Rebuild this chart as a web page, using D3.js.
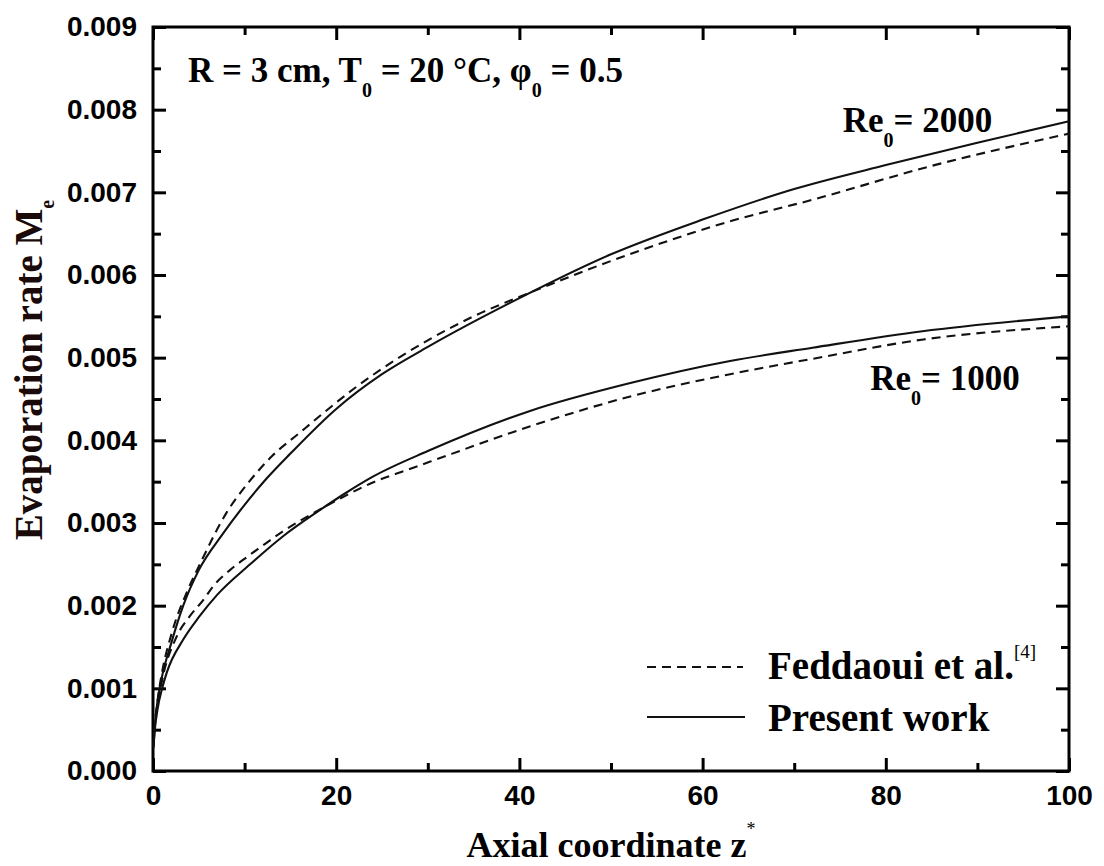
<!DOCTYPE html>
<html>
<head>
<meta charset="utf-8">
<script src="https://cdn.jsdelivr.net/npm/d3@7"></script>
<style>
  html, body { margin: 0; padding: 0; background: #fff; }
</style>
</head>
<body>
<div id="chart"></div>
<script>
// values (z* is dimensionless, Me in the plotted units)
const zPresent2000 = [0.05, 0.2, 0.5, 1, 2, 3.3, 5, 7.5, 10, 12.5, 15, 20, 25, 30, 40, 50, 60, 70, 80, 90, 100];
const mePresent2000 = [0.0003, 0.00055, 0.00085, 0.00115, 0.00155, 0.002, 0.00243, 0.00285, 0.00322, 0.00355, 0.00384,
  0.00438, 0.0048, 0.00513, 0.00572, 0.00625, 0.00667, 0.00704, 0.00733, 0.0076, 0.00786];

const zFeddaoui2000 = [0.05, 0.2, 0.5, 1, 2, 3.8, 5.2, 8, 10.5, 13, 16, 18.6, 22, 26, 30, 35, 41, 52, 63, 72, 85, 100];
const meFeddaoui2000 = [0.0003, 0.00055, 0.00085, 0.0012, 0.00165, 0.00219, 0.00252, 0.00312, 0.0035, 0.00381, 0.00409,
  0.00433, 0.00463, 0.00494, 0.00521, 0.0055, 0.00578, 0.00625, 0.00665, 0.00691, 0.00732, 0.00771];

const zPresent1000 = [0.05, 0.2, 0.5, 1, 1.5, 3.3, 5, 7, 10.6, 14.2, 18, 21, 24, 30, 41, 52, 63, 72, 84, 100];
const mePresent1000 = [0.00028, 0.0005, 0.00075, 0.001, 0.00119, 0.00159, 0.00186, 0.00213, 0.0025, 0.00284, 0.00314,
  0.00336, 0.00356, 0.00387, 0.00435, 0.00469, 0.00496, 0.00512, 0.00532, 0.0055];

const zFeddaoui1000 = [0.05, 0.2, 0.5, 1, 2.6, 4, 5.5, 6.6, 8.4, 10.4, 12.4, 14.2, 18, 20, 24, 27.7, 30.2, 41.2, 52.1, 63, 71.7, 84.1, 100];
const meFeddaoui1000 = [0.0003, 0.00055, 0.0008, 0.0011, 0.00163, 0.00187, 0.00207, 0.00224, 0.00243, 0.0026, 0.00276,
  0.0029, 0.00315, 0.00327, 0.00349, 0.00364, 0.00374, 0.00417, 0.00453, 0.0048, 0.00498, 0.00522, 0.00538];

const xMajorTicks = [0, 20, 40, 60, 80, 100];
const xMinorTicks = [10, 30, 50, 70, 90];
const yMajorTicks = [0, 0.001, 0.002, 0.003, 0.004, 0.005, 0.006, 0.007, 0.008, 0.009];
const yMinorTicks = [0.0005, 0.0015, 0.0025, 0.0035, 0.0045, 0.0055, 0.0065, 0.0075, 0.0085];

const series = [
  { z: zPresent2000, me: mePresent2000, dashed: false },
  { z: zFeddaoui2000, me: meFeddaoui2000, dashed: true },
  { z: zPresent1000, me: mePresent1000, dashed: false },
  { z: zFeddaoui1000, me: meFeddaoui1000, dashed: true },
];

const width = 1104;
const height = 866;
const margin = { top: 27, right: 35, bottom: 95, left: 153 };
const chartWidth = width - margin.left - margin.right;
const chartHeight = height - margin.top - margin.bottom;

const serif = '"Liberation Serif", "Times New Roman", serif';
const sans = '"Liberation Sans", Arial, sans-serif';

const svg = d3.select('#chart').append('svg')
  .attr('width', width)
  .attr('height', height)
;

const g = svg.append('g').attr('transform', `translate(${margin.left},${margin.top})`);

const xScale = d3.scaleLinear().domain([0, 100]).range([0, chartWidth]);
const yScale = d3.scaleLinear().domain([0, 0.009]).range([chartHeight, 0]);

// ticks point inwards on all four sides, labels only bottom and left
function styleAxis(sel) {
  sel.select('.domain').remove();
  sel.selectAll('line').attr('stroke', '#000').attr('stroke-width', 3);
  sel.selectAll('text')
    .attr('font-family', sans)
    .attr('font-weight', 'bold')
    .attr('font-size', '28px')
    .attr('fill', '#000');
}

g.append('g')
  .attr('transform', `translate(0,${chartHeight})`)
  .call(d3.axisBottom(xScale).tickValues(xMajorTicks).tickSize(-13).tickPadding(14).tickFormat(d3.format('d')))
  .call(styleAxis)
;
g.append('g')
  .attr('transform', `translate(0,${chartHeight})`)
  .call(d3.axisBottom(xScale).tickValues(xMinorTicks).tickSize(-8).tickFormat(''))
  .call(styleAxis)
;
g.append('g')
  .call(d3.axisTop(xScale).tickValues(xMajorTicks).tickSize(-13).tickFormat(''))
  .call(styleAxis)
;
g.append('g')
  .call(d3.axisTop(xScale).tickValues(xMinorTicks).tickSize(-8).tickFormat(''))
  .call(styleAxis)
;
g.append('g')
  .call(d3.axisLeft(yScale).tickValues(yMajorTicks).tickSize(-13).tickPadding(16).tickFormat(d3.format('.3f')))
  .call(styleAxis)
;
g.append('g')
  .call(d3.axisLeft(yScale).tickValues(yMinorTicks).tickSize(-8).tickFormat(''))
  .call(styleAxis)
;
g.append('g')
  .attr('transform', `translate(${chartWidth},0)`)
  .call(d3.axisRight(yScale).tickValues(yMajorTicks).tickSize(-13).tickFormat(''))
  .call(styleAxis)
;
g.append('g')
  .attr('transform', `translate(${chartWidth},0)`)
  .call(d3.axisRight(yScale).tickValues(yMinorTicks).tickSize(-8).tickFormat(''))
  .call(styleAxis)
;

// frame
g.append('rect')
  .attr('width', chartWidth)
  .attr('height', chartHeight)
  .attr('fill', 'none')
  .attr('stroke', '#000')
  .attr('stroke-width', 3)
;

const drawLine = d3.line()
  .x(d => xScale(d[0]))
  .y(d => yScale(d[1]))
  .curve(d3.curveMonotoneX)
;

series.forEach(({ z, me, dashed }) => {
  g.append('path')
    .datum(z.map((v, i) => [v, me[i]]))
    .attr('fill', 'none')
    .attr('stroke', '#111')
    .attr('stroke-width', 2.1)
    .attr('stroke-dasharray', dashed ? '9,6' : null)
    .attr('d', drawLine)
  ;
});

// text with a subscript/superscript part
function richText(parent, x, y, size, parts) {
  const t = parent.append('text')
    .attr('x', x)
    .attr('y', y)
    .attr('font-family', serif)
    .attr('font-weight', 'bold')
    .attr('font-size', `${size}px`)
    .attr('fill', '#000');
  parts.forEach(p => {
    const s = t.append('tspan').text(p.text);
    if (p.dy) s.attr('dy', p.dy);
    if (p.size) s.attr('font-size', `${p.size}px`);
    if (p.weight) s.attr('font-weight', p.weight);
  });
  return t;
}

// condition annotation
richText(g, 35, 55, 35, [
  { text: 'R = 3 cm, T' },
  { text: '0', size: 20, dy: 15 },
  { text: ' = 20 °C, φ', dy: -15 },
  { text: '0', size: 20, dy: 15 },
  { text: ' = 0.5', dy: -15 },
]);

// curve labels
richText(g, xScale(75.3), yScale(0.00773), 35, [
  { text: 'Re' },
  { text: '0', size: 20, dy: 15 },
  { text: '= 2000', dy: -15 },
]);
richText(g, xScale(78.3), yScale(0.00461), 35, [
  { text: 'Re' },
  { text: '0', size: 20, dy: 15 },
  { text: '= 1000', dy: -15 },
]);

// legend
const legend = g.append('g').attr('transform', 'translate(494,640)');
legend.append('line')
  .attr('x1', 0).attr('x2', 96).attr('y1', 0).attr('y2', 0)
  .attr('stroke', '#111').attr('stroke-width', 2.1).attr('stroke-dasharray', '9,6');
legend.append('line')
  .attr('x1', 0).attr('x2', 98).attr('y1', 50).attr('y2', 50)
  .attr('stroke', '#111').attr('stroke-width', 2.1);
richText(legend, 121, 12, 39, [
  { text: 'Feddaoui et al.' },
  { text: '[4]', size: 19, dy: -21, weight: 'normal' },
]);
richText(legend, 121, 64, 39, [{ text: 'Present work' }]);

// axis titles
richText(svg, margin.left + chartWidth / 2, 857, 36, [
  { text: 'Axial coordinate z' },
  { text: '*', size: 18, dy: -22, weight: 'normal' },
]).attr('text-anchor', 'middle');

richText(svg, 0, 0, 39, [
  { text: 'Evaporation rate M' },
  { text: 'e', size: 20, dy: 12 },
])
  .attr('text-anchor', 'middle')
  .attr('transform', 'translate(42,370) rotate(-90)')
  .attr('fill', '#1a0a0a')
;
</script>
</body>
</html>
